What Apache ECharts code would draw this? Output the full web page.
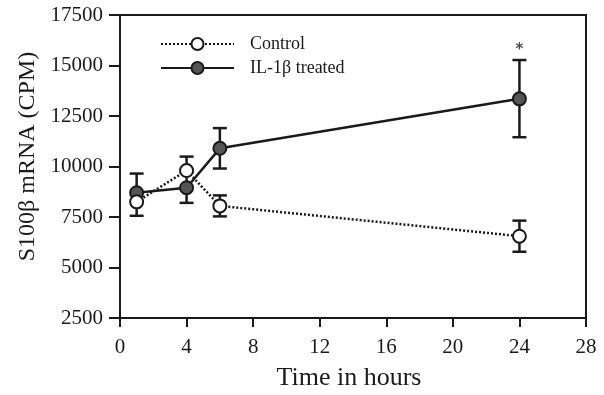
<!DOCTYPE html>
<html>
<head>
<meta charset="utf-8">
<script src="https://cdn.jsdelivr.net/npm/echarts@6/dist/echarts.min.js"></script>
<style>html,body{margin:0;padding:0;background:#fff}#c{width:604px;height:395px}</style>
</head>
<body>
<div id="c"></div>
<script>
const hours = [1, 4, 6, 24];
const control = [8250, 9800, 8050, 6550];
const controlErrUp = [0, 690, 520, 770];
const controlErrDown = [690, 0, 520, 770];
const treated = [8700, 8950, 10900, 13350];
const treatedErrUp = [950, 750, 1000, 1920];
const treatedErrDown = [0, 750, 1000, 1900];
const significance = ['', '', '', '*'];
const xTicks = [0, 28, 4];
const yTicks = [2500, 17500, 2500];

const FONT = 'Liberation Serif';
const INK = '#1a1a1a';

function errData(vals, up, down) {
  return hours.map((h, i) => [h, vals[i], up[i], down[i]]);
}
function renderErr(params, api) {
  const x = api.value(0), y = api.value(1), up = api.value(2), down = api.value(3);
  const c = api.coord([x, y]);
  const hw = 7;
  const children = [];
  const style = { stroke: INK, lineWidth: 2.5 };
  if (up > 0) {
    const hi = api.coord([x, y + up]);
    children.push({ type: 'line', shape: { x1: c[0], y1: c[1], x2: hi[0], y2: hi[1] }, style });
    children.push({ type: 'line', shape: { x1: hi[0] - hw, y1: hi[1], x2: hi[0] + hw, y2: hi[1] }, style });
  }
  if (down > 0) {
    const lo = api.coord([x, y - down]);
    children.push({ type: 'line', shape: { x1: c[0], y1: c[1], x2: lo[0], y2: lo[1] }, style });
    children.push({ type: 'line', shape: { x1: lo[0] - hw, y1: lo[1], x2: lo[0] + hw, y2: lo[1] }, style });
  }
  return { type: 'group', children };
}

const chart = echarts.init(document.getElementById('c'), null, { renderer: 'canvas' });
chart.setOption({
  animation: false,
  backgroundColor: '#fff',
  textStyle: { fontFamily: FONT, color: INK },
  grid: { left: 120, right: 18, top: 15, bottom: 77, show: true, borderColor: INK, borderWidth: 2, backgroundColor: 'transparent', containLabel: false, outerBoundsMode: 'none' },
  legend: {
    orient: 'vertical', left: 155, top: 30, itemWidth: 73, itemHeight: 15, itemGap: 6,
    textStyle: { fontFamily: FONT, fontSize: 18, color: INK, padding: [0, 0, 0, 11] },
    data: ['Control', 'IL-1β treated']
  },
  xAxis: {
    type: 'value', min: xTicks[0], max: xTicks[1], interval: xTicks[2],
    name: 'Time in hours', nameLocation: 'middle', nameGap: 47,
    nameTextStyle: { fontFamily: FONT, fontSize: 26, color: INK, padding: [0, 8, 0, 0] },
    axisLine: { show: true, lineStyle: { color: INK, width: 2 } },
    axisTick: { show: true, length: 9, lineStyle: { color: INK, width: 2 } },
    axisLabel: { fontFamily: FONT, fontSize: 21, color: INK, margin: 19, formatter: v => String(v) },
    splitLine: { show: false }
  },
  yAxis: {
    type: 'value', min: yTicks[0], max: yTicks[1], interval: yTicks[2],
    name: 'S100β mRNA (CPM)', nameLocation: 'middle', nameGap: 80, nameRotate: 90,
    nameTextStyle: { fontFamily: FONT, fontSize: 24, color: INK, padding: [0, 0, 0, 20] },
    axisLine: { show: true, lineStyle: { color: INK, width: 2 } },
    axisTick: { show: true, length: 11, lineStyle: { color: INK, width: 2 } },
    axisLabel: { fontFamily: FONT, fontSize: 21, color: INK, margin: 17, formatter: v => String(v) },
    splitLine: { show: false }
  },
  series: [
    { type: 'custom', name: 'errT', renderItem: renderErr, data: errData(treated, treatedErrUp, treatedErrDown), z: 1, silent: true },
    { type: 'custom', name: 'errC', renderItem: renderErr, data: errData(control, controlErrUp, controlErrDown), z: 1, silent: true },
    {
      type: 'line', name: 'IL-1β treated', z: 2,
      data: hours.map((h, i) => [h, treated[i]]),
      symbol: 'circle', symbolSize: 13, showAllSymbol: true,
      lineStyle: { color: INK, width: 2.5, type: 'solid' },
      itemStyle: { color: '#555', borderColor: INK, borderWidth: 2 }
    },
    {
      type: 'line', name: 'Control', z: 3,
      data: hours.map((h, i) => [h, control[i]]),
      symbol: 'circle', symbolSize: 13, showAllSymbol: true,
      lineStyle: { color: INK, width: 2.5, type: [2, 2] },
      itemStyle: { color: '#fff', borderColor: INK, borderWidth: 2 }
    },
    {
      type: 'scatter', name: 'sig', z: 4, symbol: 'circle', symbolSize: 1, silent: true,
      itemStyle: { color: 'rgba(0,0,0,0)' },
      data: hours.map((h, i) => ({ value: [h, treated[i] + treatedErrUp[i]], label: { show: significance[i] !== '', formatter: significance[i] } })),
      label: { position: 'top', distance: 2, fontFamily: 'DejaVu Sans', fontWeight: 'bold', fontSize: 15, color: INK }
    }
  ]
});
</script>
</body>
</html>
